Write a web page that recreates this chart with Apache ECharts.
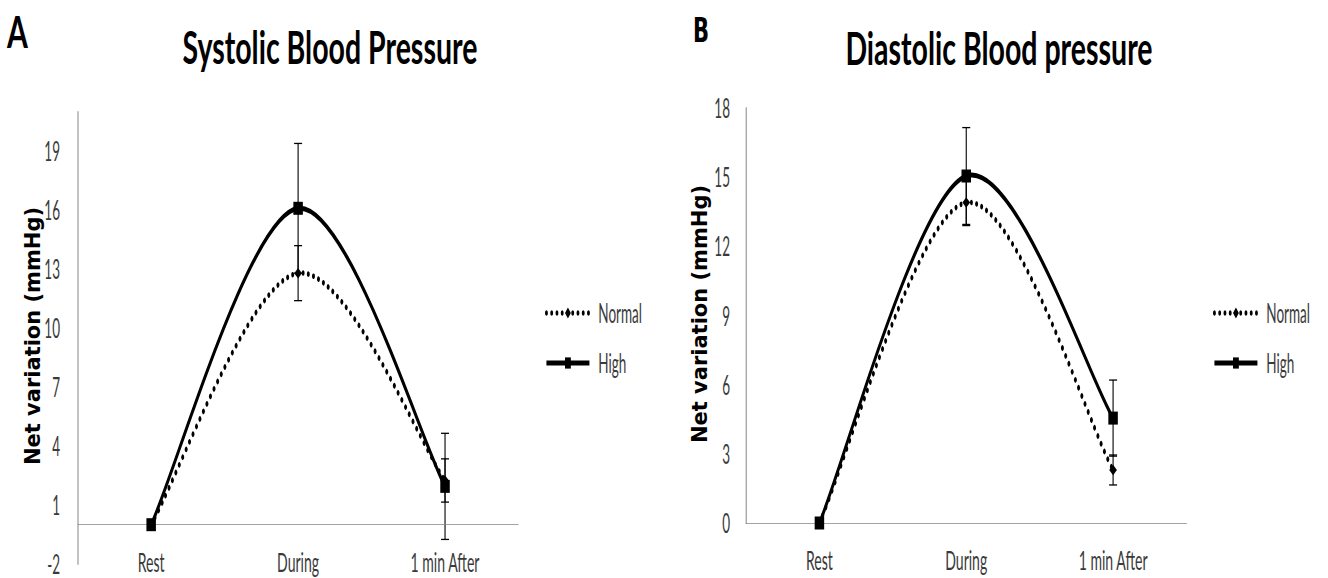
<!DOCTYPE html>
<html>
<head>
<meta charset="utf-8">
<script src="https://cdn.jsdelivr.net/npm/echarts@6/dist/echarts.min.js"></script>
<style>
html, body { margin: 0; padding: 0; overflow: hidden; background: #fff; }
#chart { position: absolute; left: 0; top: 0; height: 578px; transform-origin: 0 0; }
</style>
</head>
<body>
<div id="chart"></div>
<script>
// ---- data ----
const categories = ['Rest', 'During', '1 min After'];
const seriesNames = ['Normal', 'High'];

const sysNormal = [0, 12.8, 2.25];
const sysNormalErr = [0, 1.4, 1.1];
const sysHigh = [0, 16.1, 1.95];
const sysHighErr = [0, 3.3, 2.7];

const diaNormal = [0, 13.9, 2.3];
const diaNormalErr = [0, 1.0, 0.65];
const diaHigh = [0, 15.05, 4.55];
const diaHighErr = [0, 2.1, 1.65];

const sysTicks = [-2, 1, 4, 7, 10, 13, 16, 19];
const diaTicks = [0, 3, 6, 9, 12, 15, 18];

const titles = ['Systolic Blood Pressure', 'Diastolic Blood pressure'];
const panelLetters = ['A', 'B'];
const yName = 'Net variation (mmHg)';

// ---- layout (the reference is horizontally condensed) ----
const S = 0.52;
const W = 1328 / S;
const X = v => v / S;
const el = document.getElementById('chart');
el.style.width = W + 'px';
el.style.transform = 'scaleX(' + S + ')';

const axisGray = '#868686';
const textCol = '#3a3a3a';
const tickFont = 'Lato';
const TK = 0.62 / S; // titles are less condensed than tick labels

const dottedStyle = { stroke: '#000', lineWidth: 5.5, lineDash: [0.1, 10], lineCap: 'round' };
const solidStyle = { stroke: '#000', lineWidth: 5, lineCap: 'round' };

function errData(vals, errs) {
  return vals.map((v, i) => [i, v - errs[i], v + errs[i]]);
}

function errRender(params, api) {
  const x = api.value(0), lo = api.value(1), hi = api.value(2);
  if (hi === lo) return null;
  const p1 = api.coord([x, hi]);
  const p2 = api.coord([x, lo]);
  const hw = X(4);
  const st = { stroke: '#000', lineWidth: 1.3 };
  return {
    type: 'group',
    children: [
      { type: 'line', shape: { x1: p1[0], y1: p1[1], x2: p2[0], y2: p2[1] }, style: { stroke: '#000', lineWidth: X(1.1) } },
      { type: 'line', shape: { x1: p1[0] - hw, y1: p1[1], x2: p1[0] + hw, y2: p1[1] }, style: st },
      { type: 'line', shape: { x1: p2[0] - hw, y1: p2[1], x2: p2[0] + hw, y2: p2[1] }, style: st }
    ]
  };
}

// Excel-like smoothed line (cardinal spline, tension 1/6, duplicated end points)
function curveRender(vals, style) {
  return function (params, api) {
    if (params.dataIndex !== 0) return null;
    const pts = vals.map((v, i) => api.coord([i, v]));
    const n = pts.length;
    let d = 'M' + pts[0][0] + ' ' + pts[0][1];
    for (let i = 0; i < n - 1; i++) {
      const p0 = pts[Math.max(i - 1, 0)], p1 = pts[i], p2 = pts[i + 1], p3 = pts[Math.min(i + 2, n - 1)];
      const c1 = [p1[0] + (p2[0] - p0[0]) / 6, p1[1] + (p2[1] - p0[1]) / 6];
      const c2 = [p2[0] - (p3[0] - p1[0]) / 6, p2[1] - (p3[1] - p1[1]) / 6];
      d += ' C' + c1[0] + ' ' + c1[1] + ' ' + c2[0] + ' ' + c2[1] + ' ' + p2[0] + ' ' + p2[1];
    }
    return { type: 'path', shape: { pathData: d }, style: Object.assign({ fill: null }, style) };
  };
}

function curveSeries(name, vals, idx, normal) {
  return {
    name: name,
    type: 'custom',
    xAxisIndex: idx,
    yAxisIndex: idx,
    renderItem: curveRender(vals, normal ? dottedStyle : solidStyle),
    data: vals.map((v, i) => [i, v]),
    encode: { x: 0, y: 1 },
    z: normal ? 3 : 4,
    silent: true
  };
}

function markerSeries(name, data, idx, normal) {
  return {
    name: name,
    type: 'line',
    xAxisIndex: idx,
    yAxisIndex: idx,
    data: data,
    symbol: normal ? 'diamond' : 'rect',
    symbolSize: normal ? [X(7.7), 10.5] : [X(9.5), 13],
    showSymbol: true,
    itemStyle: { color: '#000' },
    lineStyle: { color: '#000', width: 0, opacity: 0 },
    emphasis: { disabled: true },
    z: normal ? 5 : 6
  };
}

function errSeries(name, vals, errs, idx) {
  return {
    name: name,
    type: 'custom',
    xAxisIndex: idx,
    yAxisIndex: idx,
    renderItem: errRender,
    data: errData(vals, errs),
    encode: { x: 0, y: [1, 2] },
    z: 2,
    silent: true
  };
}

const grids = [
  { left: X(77.7), top: 112, width: X(518.5 - 77.7), height: 452 },
  { left: X(746), top: 108, width: X(1186.5 - 746), height: 415 }
];

function xAxisCfg(idx, margin) {
  return {
    type: 'category',
    gridIndex: idx,
    data: categories,
    position: 'bottom',
    axisLine: { show: idx === 1, onZero: false, lineStyle: { color: axisGray, width: 1 } },
    axisTick: { show: false },
    axisLabel: { margin: margin, verticalAlign: 'middle', lineHeight: 18, fontFamily: tickFont, fontSize: 27, color: textCol },
    splitLine: { show: false }
  };
}

function yAxisCfg(idx, min, max, ticks, margin) {
  return {
    type: 'value',
    gridIndex: idx,
    min: min,
    max: max,
    axisLine: { show: true, lineStyle: { color: axisGray, width: X(1) } },
    axisTick: { show: false },
    splitLine: { show: false },
    axisLabel: { customValues: ticks, margin: X(margin), lineHeight: 16, fontFamily: tickFont, fontSize: 26, color: textCol }
  };
}

function legendCfg(left) {
  return {
    orient: 'vertical',
    left: X(left),
    top: 300,
    padding: 0,
    itemWidth: X(43),
    itemHeight: 14,
    itemGap: 24,
    selectedMode: false,
    data: [
      { name: seriesNames[0], lineStyle: { color: '#000', width: 5.5, opacity: 1, type: [0.1, 10], cap: 'round' } },
      { name: seriesNames[1], lineStyle: { color: '#000', width: 5, opacity: 1, type: 'solid' } }
    ],
    textStyle: { fontFamily: tickFont, fontSize: 26, color: textCol, padding: [0, 0, 0, 12] }
  };
}

function textEl(text, x, y, font, k, rot) {
  const e = {
    type: 'text', x: X(x), y: y, scaleX: k, silent: true,
    style: { text: text, font: font, fill: '#000', align: 'center', verticalAlign: 'middle' }
  };
  if (rot) { e.rotation = Math.PI / 2; e.scaleX = 1; e.scaleY = k; }
  return e;
}

const sysN = markerSeries(seriesNames[0], sysNormal, 0, true);
sysN.markLine = {
  silent: true,
  symbol: 'none',
  label: { show: false },
  lineStyle: { color: axisGray, width: 1, type: 'solid', opacity: 1 },
  data: [{ yAxis: 0 }]
};

const option = {
  animation: false,
  backgroundColor: '#fff',
  legend: [legendCfg(545), legendCfg(1213)],
  grid: grids,
  xAxis: [xAxisCfg(0, -2), xAxisCfg(1, 37)],
  yAxis: [yAxisCfg(0, -2, 21, sysTicks, 17.7), yAxisCfg(1, 0, 18, diaTicks, 16)],
  graphic: [
    textEl(panelLetters[0], 17.5, 31, 'bold 44px Lato', TK * 1.1),
    textEl(titles[0], 330, 46, 'bold 46px Lato', TK),
    textEl(panelLetters[1], 701, 31, 'bold 34px "DejaVu Sans"', TK),
    textEl(titles[1], 999, 47, 'bold 46px Lato', TK),
    textEl(yName, 33, 336, 'bold 21px "DejaVu Sans"', 1 / S, true),
    textEl(yName, 700, 314, 'bold 21px "DejaVu Sans"', 1 / S, true)
  ],
  series: [
    errSeries('errSysNormal', sysNormal, sysNormalErr, 0),
    errSeries('errSysHigh', sysHigh, sysHighErr, 0),
    curveSeries('curveSysNormal', sysNormal, 0, true),
    curveSeries('curveSysHigh', sysHigh, 0, false),
    sysN,
    markerSeries(seriesNames[1], sysHigh, 0, false),
    errSeries('errDiaNormal', diaNormal, diaNormalErr, 1),
    errSeries('errDiaHigh', diaHigh, diaHighErr, 1),
    curveSeries('curveDiaNormal', diaNormal, 1, true),
    curveSeries('curveDiaHigh', diaHigh, 1, false),
    markerSeries(seriesNames[0], diaNormal, 1, true),
    markerSeries(seriesNames[1], diaHigh, 1, false)
  ]
};

const chart = echarts.init(el, null, { renderer: 'svg', width: W, height: 578 });
chart.setOption(option);
</script>
</body>
</html>
